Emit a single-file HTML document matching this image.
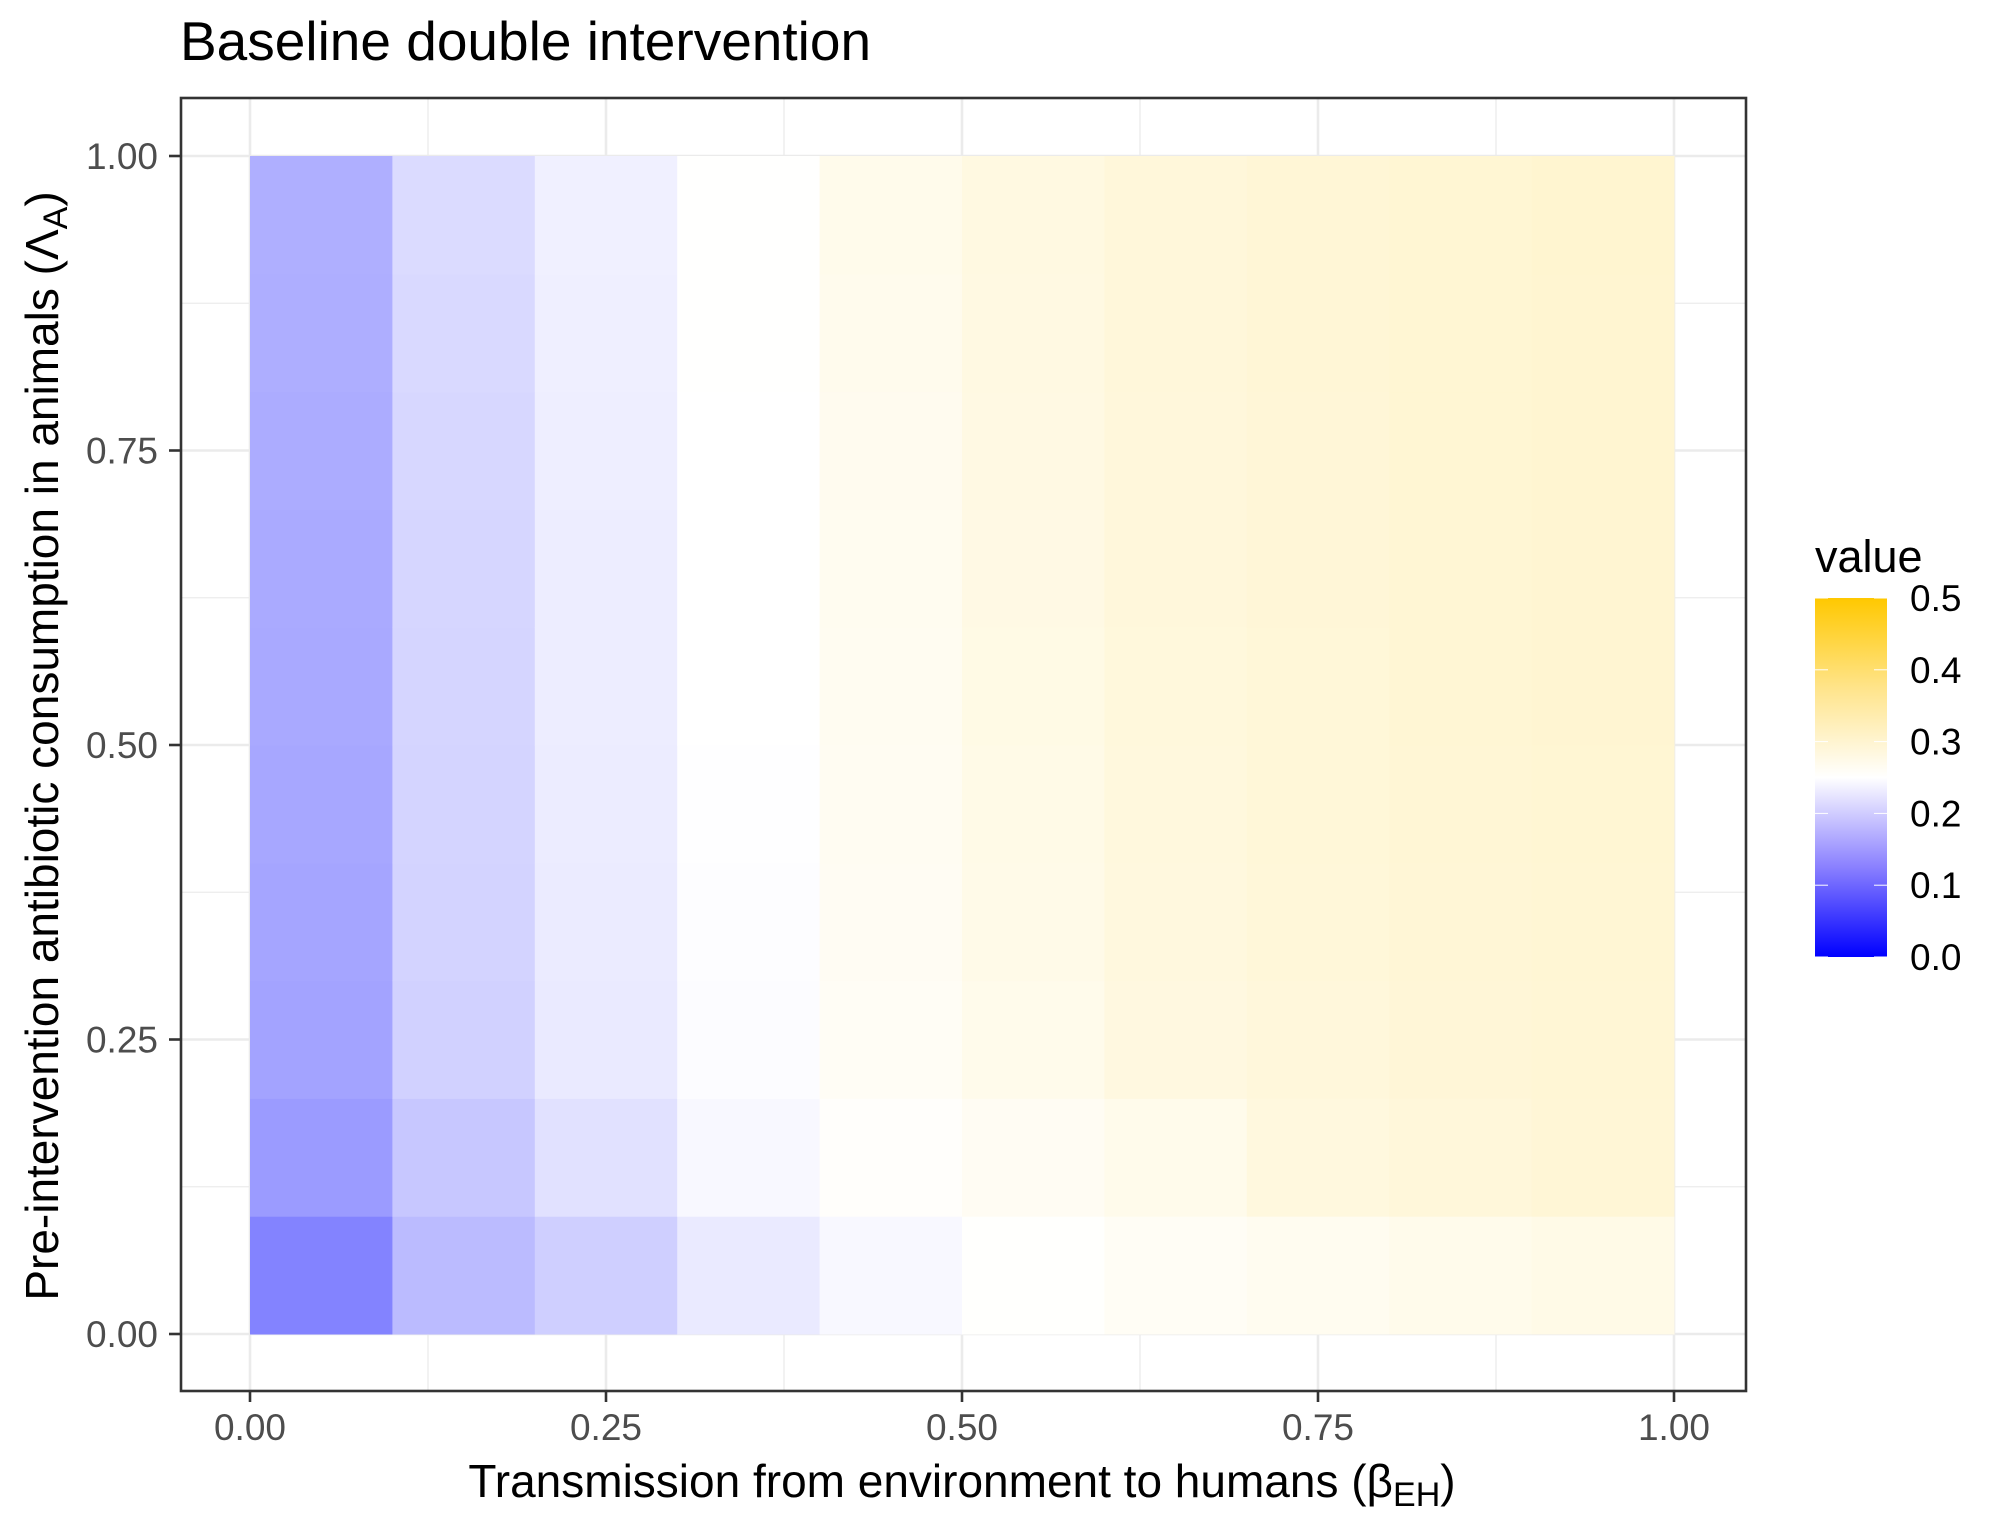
<!DOCTYPE html>
<html><head><meta charset="utf-8"><style>
body{margin:0;background:#fff;}
svg{display:block;font-family:"Liberation Sans",sans-serif;}
</style></head><body>
<svg id="chart" width="2007" height="1535" viewBox="0 0 2007 1535">
<defs>
<linearGradient id="lg" x1="0" y1="1" x2="0" y2="0">
<stop offset="0" stop-color="#0000FF"/><stop offset="0.25" stop-color="#8a80ff"/><stop offset="0.5" stop-color="#ffffff"/><stop offset="0.75" stop-color="#ffe48a"/><stop offset="1" stop-color="#FFC800"/>
</linearGradient>
</defs>
<text x="180" y="60" font-size="55" fill="#000">Baseline double intervention</text>
<g id="grid"></g>
<g id="tiles"></g>
<rect x="181" y="98" width="1565" height="1293" fill="none" stroke="#333" stroke-width="2.6"/>
<g id="axes"></g>
<text x="962" y="1497" font-size="46" text-anchor="middle">Transmission from environment to humans (β<tspan font-size="34" dy="9">EH</tspan><tspan dy="-9">)</tspan></text>
<text transform="translate(58,746) rotate(-90)" font-size="46" text-anchor="middle">Pre-intervention antibiotic consumption in animals (Λ<tspan font-size="34" dy="9">A</tspan><tspan dy="-9">)</tspan></text>
<g>
<text x="1815" y="572" font-size="45">value</text>
<rect x="1815" y="598" width="72" height="359" fill="url(#lg)"/>
<g id="legticks"></g>
</g>
</svg>
<script>
const xCats=[0.05,0.15,0.25,0.35,0.45,0.55,0.65,0.75,0.85,0.95];
const yCats=[0.05,0.15,0.25,0.35,0.45,0.55,0.65,0.75,0.85,0.95];
// values per column (x), rows from bottom (y=0.05) to top (y=0.95)
const col0=[0.128,0.152,0.160,0.162,0.164,0.166,0.167,0.169,0.171,0.172];
const col1=[0.183,0.195,0.205,0.207,0.208,0.209,0.210,0.211,0.213,0.215];
const col2=[0.203,0.221,0.229,0.230,0.231,0.232,0.232,0.233,0.234,0.235];
const col3=[0.229,0.243,0.247,0.248,0.249,0.250,0.250,0.250,0.251,0.251];
const col4=[0.243,0.254,0.260,0.262,0.263,0.264,0.265,0.266,0.268,0.270];
const col5=[0.252,0.262,0.270,0.273,0.274,0.275,0.276,0.277,0.278,0.279];
const col6=[0.260,0.270,0.280,0.282,0.283,0.284,0.285,0.285,0.286,0.286];
const col7=[0.265,0.282,0.285,0.287,0.288,0.288,0.289,0.289,0.290,0.290];
const col8=[0.270,0.286,0.289,0.290,0.291,0.292,0.292,0.293,0.293,0.293];
const col9=[0.274,0.290,0.291,0.292,0.293,0.294,0.294,0.295,0.295,0.296];
const values=[col0,col1,col2,col3,col4,col5,col6,col7,col8,col9];
const xTicks=[0,0.25,0.5,0.75,1];
const xTickLabels=["0.00","0.25","0.50","0.75","1.00"];
const yTicks=[0,0.25,0.5,0.75,1];
const yTickLabels=["0.00","0.25","0.50","0.75","1.00"];
const legTicks=[0,0.1,0.2,0.3,0.4,0.5];
const legLabels=["0.0","0.1","0.2","0.3","0.4","0.5"];

const NS="http://www.w3.org/2000/svg";
const sx=v=>250+v*1424;
const sy=v=>1334-v*1178;
const ly=v=>957-(v/0.5)*359;
function color(v){
  let r,g,b;
  if(v<=0.25){const t=Math.max(0,v/0.25);r=255*t;g=255*t;b=255;}
  else{const s=Math.min(1,(v-0.25)/0.25);r=255;g=255-55*s;b=255-255*s;}
  return `rgb(${Math.round(r)},${Math.round(g)},${Math.round(b)})`;
}
function mk(tag,attrs,parent){const e=document.createElementNS(NS,tag);for(const k in attrs)e.setAttribute(k,attrs[k]);parent.appendChild(e);return e;}
const grid=document.getElementById('grid');
[0.125,0.375,0.625,0.875].forEach(v=>{
  const l=mk('line',{x1:sx(v),x2:sx(v),y1:98,y2:1391,stroke:'#EBEBEB','stroke-width':1.3},grid);
  
  
  const m=mk('line',{y1:sy(v),y2:sy(v),x1:181,x2:1746,stroke:'#EBEBEB','stroke-width':1.3},grid);
  
  
});
xTicks.forEach(v=>{
  const l=mk('line',{x1:sx(v),x2:sx(v),y1:98,y2:1391,stroke:'#EBEBEB','stroke-width':2.6},grid);
  
  
});
yTicks.forEach(v=>{
  const l=mk('line',{y1:sy(v),y2:sy(v),x1:181,x2:1746,stroke:'#EBEBEB','stroke-width':2.6},grid);
  
  
});
const tiles=document.getElementById('tiles');
xCats.forEach((xc,i)=>{yCats.forEach((yc,j)=>{
  const x0=sx(xc-0.05),x1=sx(xc+0.05),y0=sy(yc+0.05),y1=sy(yc-0.05);
  const r=mk('rect',{x:x0,y:y0,width:x1-x0+0.5,height:y1-y0+0.5,fill:color(values[i][j])},tiles);
  
  
});});
const axes=document.getElementById('axes');
xTicks.forEach((v,i)=>{
  const t=mk('line',{x1:sx(v),x2:sx(v),y1:1391,y2:1402,stroke:'#333','stroke-width':2.6},axes);
  
  
  const tx=mk('text',{x:sx(v),y:1440,'font-size':37,fill:'#4D4D4D','text-anchor':'middle'},axes);
  tx.textContent=xTickLabels[i];
  
  
});
yTicks.forEach((v,i)=>{
  const t=mk('line',{x1:169,x2:181,y1:sy(v),y2:sy(v),stroke:'#333','stroke-width':2.6},axes);
  
  
  const tx=mk('text',{x:158,y:sy(v)+13,'font-size':37,fill:'#4D4D4D','text-anchor':'end'},axes);
  tx.textContent=yTickLabels[i];
  
  
});
const lt=document.getElementById('legticks');
legTicks.forEach((v,i)=>{
  const a=mk('line',{x1:1815,x2:1828,y1:ly(v),y2:ly(v),stroke:'#fff','stroke-width':1},lt);
  
  
  const b=mk('line',{x1:1874,x2:1887,y1:ly(v),y2:ly(v),stroke:'#fff','stroke-width':1},lt);
  
  
  const tx=mk('text',{x:1910,y:ly(v)+13,'font-size':37,fill:'#000'},lt);
  tx.textContent=legLabels[i];
  
  
});
</script>
</body></html>
